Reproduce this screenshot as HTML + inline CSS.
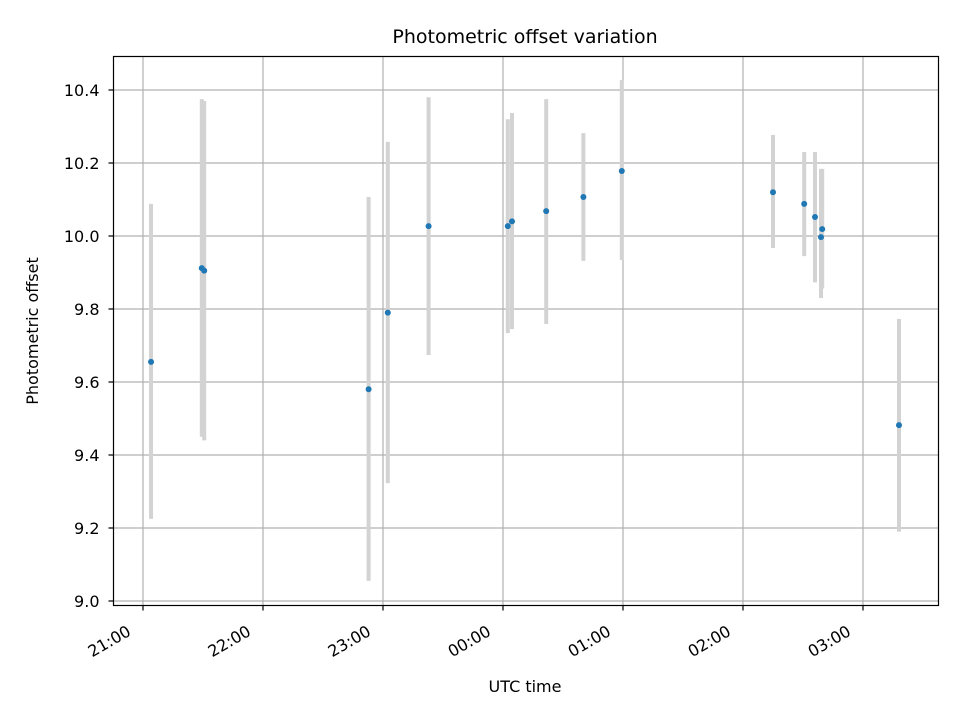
<!DOCTYPE html>
<html><head><meta charset="utf-8"><style>
body{margin:0;background:#fff}
svg text{font-family:"DejaVu Sans","Liberation Sans",sans-serif;fill:#000}
</style></head><body>
<svg id="chart" width="960" height="720" xmlns="http://www.w3.org/2000/svg">
<rect width="960" height="720" fill="#fff"/>
<g id="grid"></g><g id="bars"></g><g id="pts"></g><g id="axes"></g>
<text x="525" y="43" font-size="19" text-anchor="middle">Photometric offset variation</text>
<text x="525" y="692" font-size="16" text-anchor="middle">UTC time</text>
<text transform="translate(38,331) rotate(-90)" font-size="16" text-anchor="middle">Photometric offset</text>
</svg>
<script>
// hours after 21:00 UTC
const times=[0.067,0.49,0.51,1.88,2.04,2.38,3.04,3.075,3.36,3.67,3.99,5.25,5.51,5.6,5.65,5.66,6.3];
const offsets=[9.655,9.912,9.905,9.58,9.79,10.027,10.027,10.04,10.068,10.107,10.178,10.12,10.088,10.052,9.997,10.019,9.482];
const upper=[10.088,10.375,10.37,10.107,10.258,10.38,10.32,10.337,10.375,10.282,10.427,10.277,10.23,10.23,10.184,10.184,9.773];
const lower=[9.225,9.45,9.44,9.055,9.323,9.674,9.734,9.745,9.759,9.932,9.934,9.967,9.945,9.873,9.83,9.856,9.19];
const yTicks=[9.0,9.2,9.4,9.6,9.8,10.0,10.2,10.4];
const xTicks=[0,1,2,3,4,5,6];
const xTickLabels=["21:00","22:00","23:00","00:00","01:00","02:00","03:00"];
const L=113.5,R=938.5,T=56.5,B=605.5;
const X=h=>143+h*120, Y=v=>601-(v-9.0)*365;
const NS="http://www.w3.org/2000/svg";
function mk(tag,attrs,parent){const e=document.createElementNS(NS,tag);for(const k in attrs)e.setAttribute(k,attrs[k]);parent.appendChild(e);return e;}
const grid=document.getElementById('grid'),axes=document.getElementById('axes'),bars=document.getElementById('bars'),pts=document.getElementById('pts');
yTicks.forEach(v=>{
 const g=mk('line',{x1:L,x2:R,y1:Y(v),y2:Y(v),stroke:'#b0b0b0','stroke-width':1.2},grid);
 
 
 mk('line',{x1:L-5,x2:L,y1:Y(v),y2:Y(v),stroke:'#000','stroke-width':1.2},axes);
 const t=mk('text',{x:L-14,y:Y(v)+6,'font-size':16,'text-anchor':'end'},axes);
 t.textContent=v.toFixed(1);
 
 
});
xTicks.forEach((h,i)=>{
 const g=mk('line',{x1:X(h),x2:X(h),y1:T,y2:B,stroke:'#b0b0b0','stroke-width':1.2},grid);
 
 
 mk('line',{x1:X(h),x2:X(h),y1:B,y2:B+5,stroke:'#000','stroke-width':1.2},axes);
 const ax=X(h)-11, ay=B+29;
 const t=mk('text',{x:ax,y:ay,'font-size':16,'text-anchor':'end',transform:`rotate(-30 ${ax} ${ay})`},axes);
 t.textContent=xTickLabels[i];
 
 
});
const frame=mk('rect',{x:L,y:T,width:R-L,height:B-T,fill:'none',stroke:'#000','stroke-width':1.2},axes);


times.forEach((h,i)=>{
 const b=mk('line',{x1:X(h),x2:X(h),y1:Y(upper[i]),y2:Y(lower[i]),stroke:'#d3d3d3','stroke-width':4},bars);
 
 
 const c=mk('circle',{cx:X(h),cy:Y(offsets[i]),r:3,fill:'#1f77b4'},pts);
 
 
});
</script>
</body></html>
